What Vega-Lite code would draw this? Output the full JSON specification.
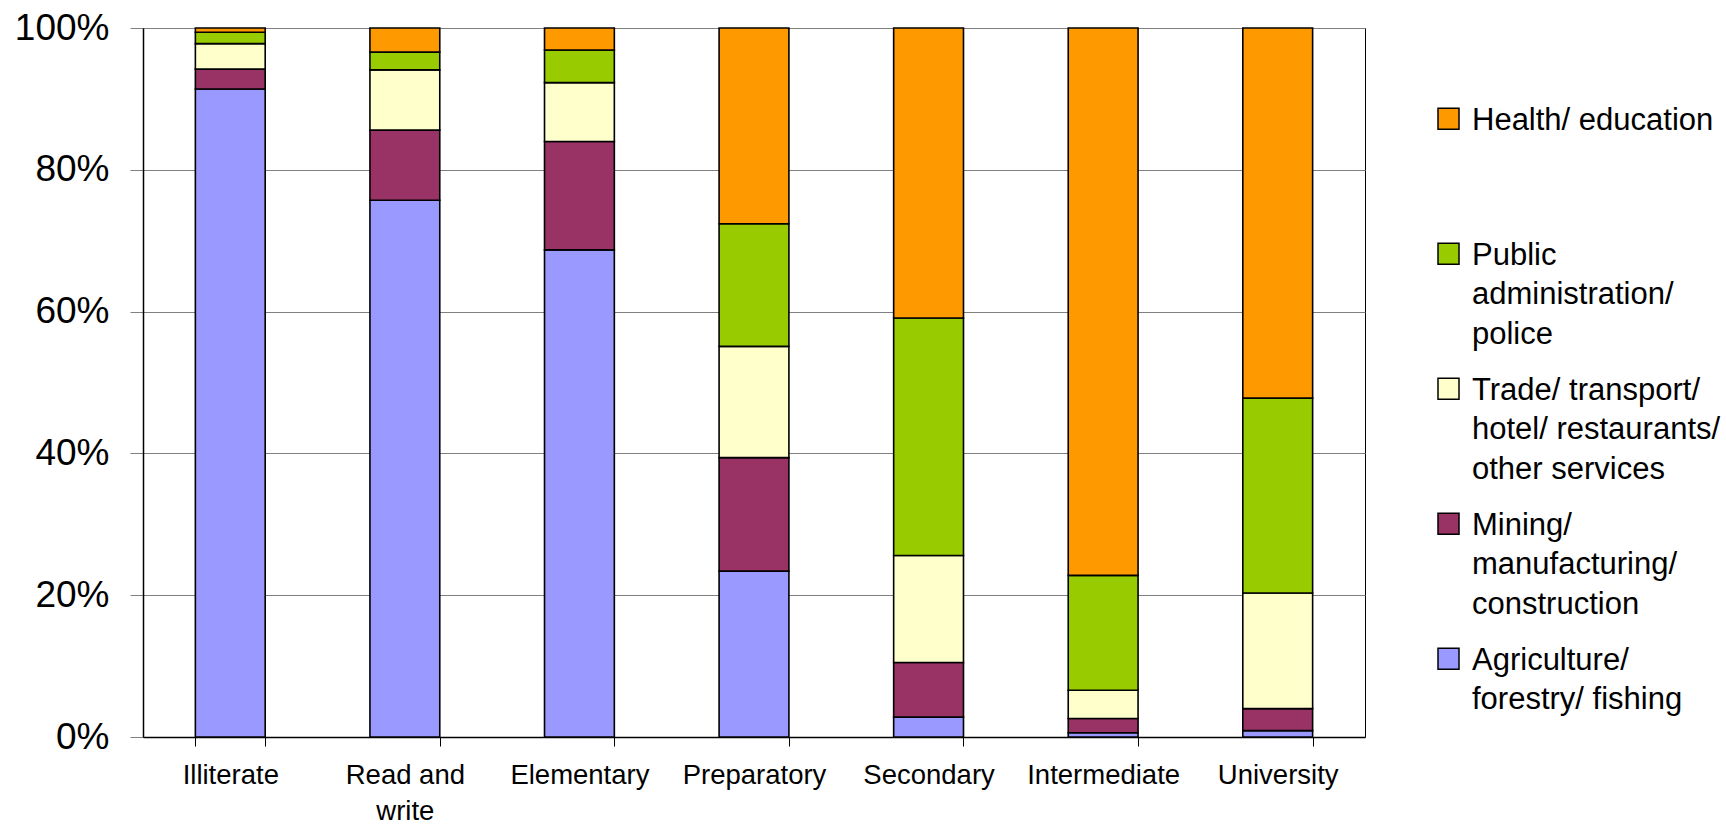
{
  "$schema": "https://vega.github.io/schema/vega-lite/v6.json",
  "autosize": "none",
  "width": 1222,
  "height": 709,
  "padding": {"left": 143, "top": 28, "right": 361, "bottom": 88},
  "background": "white",
  "config": {
    "view": {"stroke": "black", "strokeWidth": 1},
    "font": "Liberation Sans",
    "style": {"guide-label": {"lineHeight": 39.6}}
  },
  "data": {
    "values": [
      {"level": "Illiterate", "sector": "Agriculture/ forestry/ fishing", "rank": 1, "share": 91.4},
      {"level": "Illiterate", "sector": "Mining/ manufacturing/ construction", "rank": 2, "share": 2.8},
      {"level": "Illiterate", "sector": "Trade/ transport/ hotel/ restaurants/ other services", "rank": 3, "share": 3.6},
      {"level": "Illiterate", "sector": "Public administration/ police", "rank": 4, "share": 1.6},
      {"level": "Illiterate", "sector": "Health/ education", "rank": 5, "share": 0.6},
      {"level": "Read and write", "sector": "Agriculture/ forestry/ fishing", "rank": 1, "share": 75.7},
      {"level": "Read and write", "sector": "Mining/ manufacturing/ construction", "rank": 2, "share": 9.9},
      {"level": "Read and write", "sector": "Trade/ transport/ hotel/ restaurants/ other services", "rank": 3, "share": 8.5},
      {"level": "Read and write", "sector": "Public administration/ police", "rank": 4, "share": 2.5},
      {"level": "Read and write", "sector": "Health/ education", "rank": 5, "share": 3.4},
      {"level": "Elementary", "sector": "Agriculture/ forestry/ fishing", "rank": 1, "share": 68.7},
      {"level": "Elementary", "sector": "Mining/ manufacturing/ construction", "rank": 2, "share": 15.3},
      {"level": "Elementary", "sector": "Trade/ transport/ hotel/ restaurants/ other services", "rank": 3, "share": 8.3},
      {"level": "Elementary", "sector": "Public administration/ police", "rank": 4, "share": 4.6},
      {"level": "Elementary", "sector": "Health/ education", "rank": 5, "share": 3.1},
      {"level": "Preparatory", "sector": "Agriculture/ forestry/ fishing", "rank": 1, "share": 23.4},
      {"level": "Preparatory", "sector": "Mining/ manufacturing/ construction", "rank": 2, "share": 16.0},
      {"level": "Preparatory", "sector": "Trade/ transport/ hotel/ restaurants/ other services", "rank": 3, "share": 15.7},
      {"level": "Preparatory", "sector": "Public administration/ police", "rank": 4, "share": 17.3},
      {"level": "Preparatory", "sector": "Health/ education", "rank": 5, "share": 27.6},
      {"level": "Secondary", "sector": "Agriculture/ forestry/ fishing", "rank": 1, "share": 2.8},
      {"level": "Secondary", "sector": "Mining/ manufacturing/ construction", "rank": 2, "share": 7.7},
      {"level": "Secondary", "sector": "Trade/ transport/ hotel/ restaurants/ other services", "rank": 3, "share": 15.1},
      {"level": "Secondary", "sector": "Public administration/ police", "rank": 4, "share": 33.5},
      {"level": "Secondary", "sector": "Health/ education", "rank": 5, "share": 40.9},
      {"level": "Intermediate", "sector": "Agriculture/ forestry/ fishing", "rank": 1, "share": 0.6},
      {"level": "Intermediate", "sector": "Mining/ manufacturing/ construction", "rank": 2, "share": 2.0},
      {"level": "Intermediate", "sector": "Trade/ transport/ hotel/ restaurants/ other services", "rank": 3, "share": 4.0},
      {"level": "Intermediate", "sector": "Public administration/ police", "rank": 4, "share": 16.2},
      {"level": "Intermediate", "sector": "Health/ education", "rank": 5, "share": 77.2},
      {"level": "University", "sector": "Agriculture/ forestry/ fishing", "rank": 1, "share": 0.9},
      {"level": "University", "sector": "Mining/ manufacturing/ construction", "rank": 2, "share": 3.1},
      {"level": "University", "sector": "Trade/ transport/ hotel/ restaurants/ other services", "rank": 3, "share": 16.3},
      {"level": "University", "sector": "Public administration/ police", "rank": 4, "share": 27.5},
      {"level": "University", "sector": "Health/ education", "rank": 5, "share": 52.2}
    ]
  },
  "mark": {"type": "bar", "stroke": "black", "strokeWidth": 1.6},
  "encoding": {
    "x": {
      "field": "level",
      "type": "nominal",
      "sort": ["Illiterate", "Read and write", "Elementary", "Preparatory", "Secondary", "Intermediate", "University"],
      "scale": {"paddingInner": 0.6, "paddingOuter": 0.3},
      "axis": {
        "title": null,
        "labelAngle": 0,
        "labelFont": "Liberation Sans",
        "labelFontSize": 27.5,
        "labelColor": "black",
        "labelPadding": 15,
        "labelLineHeight": 36,
        "labelLimit": 300,
        "labelExpr": "datum.label == 'Read and write' ? ['Read and', 'write'] : datum.label",
        "domainColor": "black",
        "domainWidth": 1.5,
        "tickColor": "black",
        "tickWidth": 1,
        "tickSize": 9,
        "tickBand": "extent",
        "grid": false
      }
    },
    "y": {
      "field": "share",
      "type": "quantitative",
      "stack": "normalize",
      "scale": {"domain": [0, 1], "nice": false},
      "axis": {
        "title": null,
        "values": [0, 0.2, 0.4, 0.6, 0.8, 1],
        "format": ".0%",
        "labelFont": "Liberation Sans",
        "labelFontSize": 37,
        "labelColor": "black",
        "labelPadding": 21,
        "domainColor": "black",
        "domainWidth": 1.5,
        "tickColor": "#808080",
        "tickSize": 13,
        "grid": true,
        "gridColor": "#808080",
        "gridWidth": 1.2
      }
    },
    "order": {"field": "rank", "type": "quantitative", "sort": "ascending"},
    "color": {
      "field": "sector",
      "type": "nominal",
      "scale": {
        "domain": ["Health/ education", "Public administration/ police", "Trade/ transport/ hotel/ restaurants/ other services", "Mining/ manufacturing/ construction", "Agriculture/ forestry/ fishing"],
        "range": ["#FF9900", "#99CC00", "#FFFFCC", "#993366", "#9999FF"]
      },
      "legend": {
        "title": null,
        "orient": "none",
        "legendX": 1290,
        "legendY": 62,
        "padding": 0,
        "gridAlign": "all",
        "rowPadding": 10,
        "symbolType": "M-1,0.26L1,0.26L1,2.26L-1,2.26Z",
        "symbolSize": 441,
        "symbolStrokeColor": "black",
        "symbolStrokeWidth": 1.5,
        "symbolOpacity": 1,
        "labelFont": "Liberation Sans",
        "labelFontSize": 31,
        "labelColor": "black",
        "labelBaseline": "top",
        "labelOffset": 8,
        "labelLimit": 400,
        "labelExpr": "datum.label == 'Public administration/ police' ? ['Public', 'administration/', 'police'] : datum.label == 'Trade/ transport/ hotel/ restaurants/ other services' ? ['Trade/ transport/', 'hotel/ restaurants/', 'other services'] : datum.label == 'Mining/ manufacturing/ construction' ? ['Mining/', 'manufacturing/', 'construction'] : datum.label == 'Agriculture/ forestry/ fishing' ? ['Agriculture/', 'forestry/ fishing'] : datum.label"
      }
    }
  }
}
